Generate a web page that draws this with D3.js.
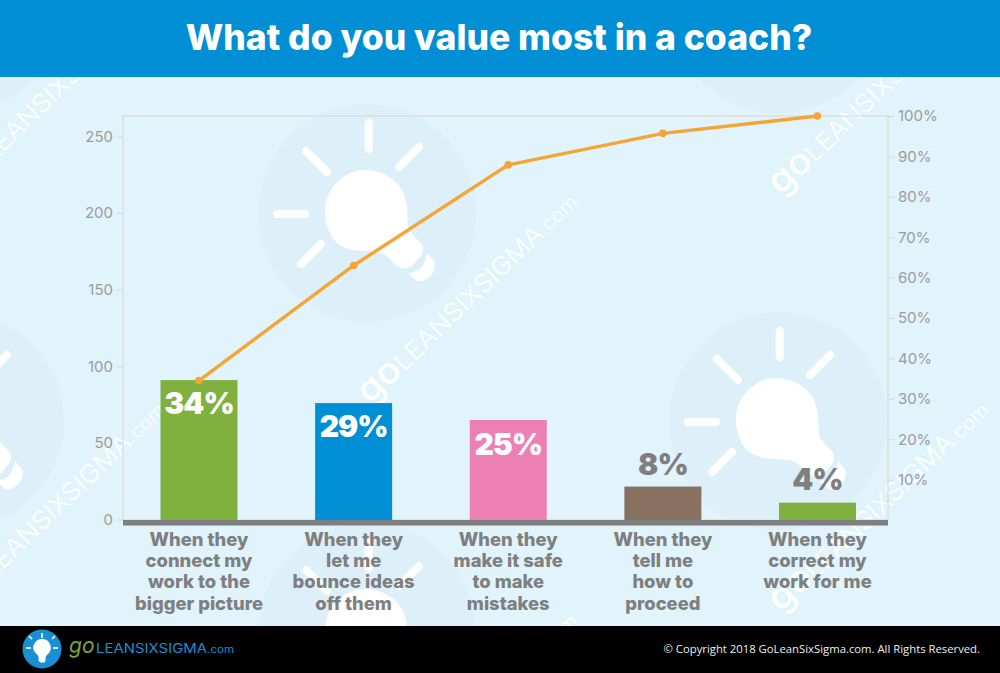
<!DOCTYPE html>
<html><head><meta charset="utf-8">
<script src="https://cdnjs.cloudflare.com/ajax/libs/d3/7.8.5/d3.min.js"></script>
<style>
html,body{margin:0;padding:0;background:#e1f3fb}
svg{display:block}
text{font-family:Inter,"Open Sans",sans-serif}
.tick text{font-size:15px;fill:#9c9c9c;font-weight:400}
</style></head><body>
<svg id="c" width="1000" height="673"></svg>
<script>
const title = "What do you value most in a coach?";
const categories = ["c1","c2","c3","c4","c5"];
const categoryLines = [
  ["When they","connect my","work to the","bigger picture"],
  ["When they","let me","bounce ideas","off them"],
  ["When they","make it safe","to make","mistakes"],
  ["When they","tell me","how to","proceed"],
  ["When they","correct my","work for me"]
];
const counts = [91, 76, 65, 21.5, 11];
const cumulativePct = [34.5, 63, 87.9, 95.7, 100];
const labels = ["34%","29%","25%","8%","4%"];
const barColors = ["#80b13e","#008fd5","#ec80b5","#897162","#80b13e"];
const labelColors = ["#ffffff","#ffffff","#ffffff","#7f7f7f","#7f7f7f"];
const countTicks = [0,50,100,150,200,250];
const pctTicks = [10,20,30,40,50,60,70,80,90,100];
const copyright = "© Copyright 2018 GoLeanSixSigma.com. All Rights Reserved.";

const svg = d3.select("#c");
const W=1000,H=673;
const pL=123,pR=888,pT=116,pB=520;

const x = d3.scalePoint().domain(categories).range([199,817.5]);
const y = d3.scaleLinear().domain([0,250]).range([519.5,136.5]);
const yPct = d3.scaleLinear().domain([0,100]).range([520,116]);
const barW = 77;

// background
svg.append("rect").attr("width",W).attr("height",H).attr("fill","#e1f3fb");

// watermark pattern
const bulbCenters=[[-45,4],[367,213],[778,4],[-45,421],[778,421],[367,632]];
const headPath="M-2,-43C18,-43 34,-30 38,-16C41,-6 40,6 41,14C42,20 53,28 55,32C58,39 54,44 50,47C47,53 41,56 35,55C28,54 25,47 21,44C17,41 14,39 10,39C2,38 -6,38 -14,37C-27,34 -34,28 -37,20C-41,12 -42,6 -42,-3C-42,-12 -38,-20 -34,-26C-26,-37 -14,-43 -2,-43Z";
const capPath="M60,40L67,48C69,55 66,62 60,66C56,69 53,68 50,68L41,60C48,60 53,57 56,52C58,49 59,45 60,40Z";
const rays=[[1.7,-90,1.7,-64],[32,-46,52,-66],[-61,-62,-40,-41],[-90,1,-62,1],[-66,51,-46,31]];
const bg=svg.append("g");
bulbCenters.forEach(([cx,cy])=>{
  const g=bg.append("g").attr("transform",`translate(${cx},${cy})`);
  g.append("circle").attr("r",109).attr("fill","#ddeff9");
  g.append("path").attr("d",headPath).attr("fill","#fff");
  g.append("path").attr("d",capPath).attr("fill","#fff");
  rays.forEach(r=>g.append("line").attr("x1",r[0]).attr("y1",r[1]).attr("x2",r[2]).attr("y2",r[3])
    .attr("stroke","#fff").attr("stroke-width",8).attr("stroke-linecap","round"));
});
bulbCenters.forEach(([cx,cy])=>{
  const t=bg.append("text").attr("transform",`translate(${cx+3},${cy+192}) rotate(-44)`)
    .attr("fill","#fff").attr("font-size",25).attr("font-weight",300)
    .attr("textLength",290).attr("lengthAdjust","spacingAndGlyphs");
  t.append("tspan").attr("font-size",36).attr("font-weight",500).text("go");
  t.append("tspan").text("LEANSIXSIGMA");
  t.append("tspan").attr("font-size",19).text(".com");
});

// frame
svg.append("rect").attr("x",pL).attr("y",pT).attr("width",pR-pL).attr("height",pB-pT)
  .attr("fill","none").attr("stroke","#dcdad6").attr("stroke-width",1.2);

// axes
const axL=svg.append("g").attr("transform",`translate(${pL},0)`)
  .call(d3.axisLeft(y).tickValues(countTicks).tickSize(6).tickPadding(4));
const axR=svg.append("g").attr("transform",`translate(${pR},0)`)
  .call(d3.axisRight(yPct).tickValues(pctTicks).tickFormat(d=>d+"%").tickSize(6).tickPadding(4));
[axL,axR].forEach(a=>{a.select(".domain").remove();a.selectAll(".tick line").attr("stroke","#dcdad6").attr("stroke-width",1.2);});

// bars
svg.append("g").selectAll("rect").data(categories).join("rect")
  .attr("x",d=>x(d)-barW/2).attr("width",barW)
  .attr("y",(d,i)=>y(counts[i])).attr("height",(d,i)=>y(0)-y(counts[i])+1)
  .attr("fill",(d,i)=>barColors[i]);
svg.append("rect").attr("x",pL).attr("y",pB).attr("width",pR-pL).attr("height",5.5).attr("fill","#7f7f7f");

// pareto line
const line=d3.line().x((d,i)=>x(categories[i])).y(d=>yPct(d));
svg.append("path").attr("d",line(cumulativePct)).attr("fill","none").attr("stroke","#f4a535").attr("stroke-width",3.4);
svg.append("g").selectAll("circle").data(cumulativePct).join("circle")
  .attr("cx",(d,i)=>x(categories[i])).attr("cy",d=>yPct(d)).attr("r",3.8).attr("fill","#f4a535");

// value labels
const labelY=[414,437,455,475,490];
svg.append("g").selectAll("text").data(labels).join("text")
  .attr("x",(d,i)=>x(categories[i])).attr("y",(d,i)=>labelY[i])
  .attr("text-anchor","middle").attr("font-size",30).attr("font-weight",900).attr("letter-spacing",-1)
  .attr("fill",(d,i)=>labelColors[i]).text(d=>d);

// category labels
const cat=svg.append("g");
categoryLines.forEach((lines,i)=>{
  lines.forEach((s,j)=>{
    cat.append("text").attr("x",x(categories[i])).attr("y",546+j*21.2)
      .attr("text-anchor","middle").attr("font-size",18.4).attr("font-weight",800)
      .attr("fill","#7f7f7f").text(s);
  });
});

// header & footer
svg.append("rect").attr("width",W).attr("height",77).attr("fill","#008fd5");
svg.append("text").attr("x",499).attr("y",50).attr("text-anchor","middle")
  .attr("font-size",35.5).attr("font-weight",800).attr("fill","#fff").text(title);
svg.append("rect").attr("y",626).attr("width",W).attr("height",47).attr("fill","#000");
const logo=svg.append("g").attr("transform","translate(42,649)");
logo.append("circle").attr("r",19.5).attr("fill","#1a8fd3");
logo.append("path").attr("d",headPath).attr("fill","#fff").attr("transform","translate(0,-1) rotate(45) scale(0.21)");
[[0,-16,0,-11],[10,-10,13,-13],[-10,-10,-13,-13],[-16,-1,-11,-1],[16,-1,11,-1]].forEach(r=>
  logo.append("line").attr("x1",r[0]).attr("y1",r[1]).attr("x2",r[2]).attr("y2",r[3]).attr("stroke","#fff").attr("stroke-width",1.6));
svg.append("text").attr("x",69).attr("y",653).attr("font-size",21).attr("font-style","italic").attr("font-weight",400)
  .attr("fill","#76a83a").text("go");
const lt=svg.append("text").attr("x",96).attr("y",653).attr("fill","#1a8fd3").attr("font-size",13)
  .attr("textLength",138).attr("lengthAdjust","spacingAndGlyphs");
lt.append("tspan").text("LEANSIXSIGMA");
lt.append("tspan").attr("font-size",10).text(".com");
svg.append("text").attr("x",980).attr("y",653).attr("text-anchor","end")
  .attr("font-size",11.3).attr("style",'font-family:"Open Sans"').attr("fill","#eeeeee").text(copyright);
</script>
</body></html>
